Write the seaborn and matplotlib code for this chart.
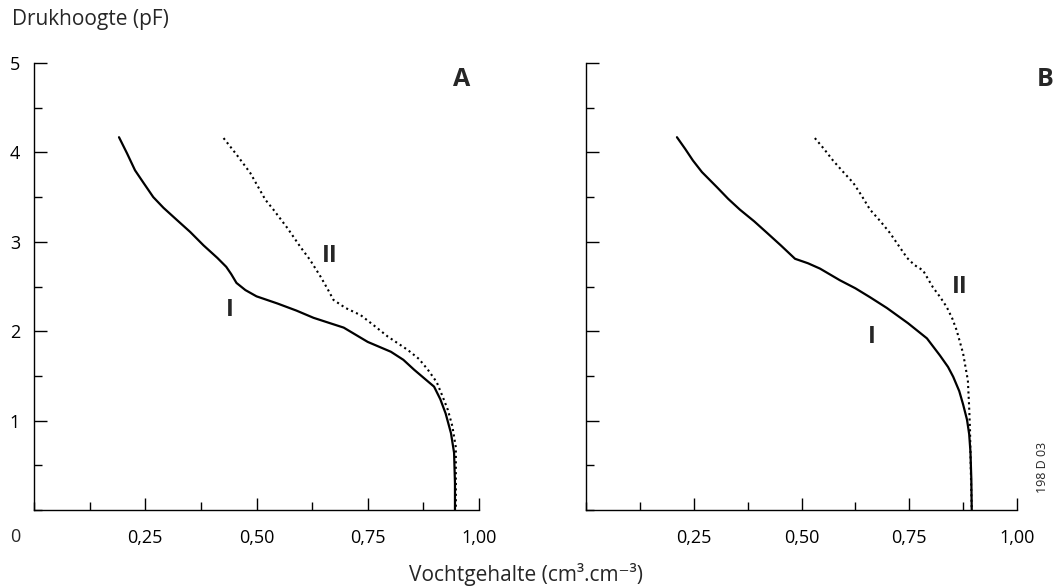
import matplotlib
matplotlib.use("Agg")
import matplotlib.pyplot as plt
import seaborn as sns
from matplotlib.ticker import MultipleLocator, FixedLocator

sns.set_theme(style="white")
plt.rcParams['font.family'] = ['Open Sans', 'DejaVu Sans']

# Panel A data (moisture content, pF)
a1_x = [0.191, 0.209, 0.227, 0.246, 0.268, 0.291, 0.322, 0.351, 0.381, 0.412, 0.432, 0.443,
        0.455, 0.475, 0.50, 0.547, 0.59, 0.628, 0.665, 0.696, 0.75, 0.802, 0.83, 0.854, 0.88,
        0.899, 0.913, 0.925, 0.937, 0.944, 0.946, 0.946]
a1_y = [4.17, 3.99, 3.80, 3.66, 3.50, 3.38, 3.24, 3.11, 2.96, 2.82, 2.72, 2.64,
        2.54, 2.46, 2.39, 2.31, 2.23, 2.15, 2.09, 2.04, 1.88, 1.77, 1.68, 1.57, 1.46,
        1.38, 1.24, 1.08, 0.86, 0.64, 0.30, 0.0]
a2_x = [0.426, 0.456, 0.486, 0.52, 0.538, 0.57, 0.599, 0.62, 0.644, 0.66, 0.673, 0.70, 0.734,
        0.765, 0.795, 0.84, 0.865, 0.885, 0.905, 0.919, 0.93, 0.94, 0.948, 0.948]
a2_y = [4.16, 3.97, 3.77, 3.47, 3.36, 3.15, 2.94, 2.80, 2.61, 2.47, 2.35, 2.26, 2.18,
        2.06, 1.94, 1.79, 1.69, 1.57, 1.43, 1.26, 1.12, 0.94, 0.70, 0.0]

# Panel B data
b1_x = [0.211, 0.230, 0.248, 0.269, 0.304, 0.33, 0.357, 0.39, 0.42, 0.452, 0.485, 0.515, 0.543,
        0.589, 0.625, 0.659, 0.698, 0.747, 0.791, 0.821, 0.84, 0.852, 0.866, 0.875, 0.884,
        0.889, 0.892, 0.894, 0.895]
b1_y = [4.17, 4.04, 3.91, 3.78, 3.61, 3.48, 3.36, 3.23, 3.10, 2.96, 2.81, 2.76, 2.70,
        2.57, 2.48, 2.38, 2.26, 2.09, 1.92, 1.73, 1.60, 1.49, 1.33, 1.18, 1.01,
        0.85, 0.65, 0.35, 0.0]
b2_x = [0.531, 0.552, 0.573, 0.597, 0.62, 0.639, 0.659, 0.683, 0.705, 0.725, 0.745, 0.762, 0.782,
        0.805, 0.822, 0.837, 0.85, 0.86, 0.875, 0.886, 0.889, 0.891, 0.893, 0.895]
b2_y = [4.16, 4.04, 3.91, 3.78, 3.66, 3.52, 3.36, 3.23, 3.10, 2.96, 2.82, 2.74, 2.68,
        2.49, 2.38, 2.27, 2.14, 2.01, 1.75, 1.45, 1.15, 0.89, 0.40, 0.0]

x_ticks = [0.25, 0.50, 0.75, 1.00]
x_labels = ["0,25", "0,50", "0,75", "1,00"]
y_ticks = [1, 2, 3, 4, 5]
y_labels = ["1", "2", "3", "4", "5"]
curve_labels = ["I", "II"]
panel_labels = ["A", "B"]

fig = plt.figure(figsize=(10.56, 5.86), dpi=100)
fig.patch.set_facecolor("white")
axA = fig.add_axes([34/1056, 76/586, 445/1056, 447/586])
axB = fig.add_axes([586/1056, 76/586, 431/1056, 447/586])

solid_kw = dict(color="black", linewidth=1.6, sort=False, estimator=None)
dot_kw = dict(color="black", linewidth=1.5, sort=False, estimator=None)

sns.lineplot(x=a1_x, y=a1_y, ax=axA, **solid_kw)
sns.lineplot(x=a2_x, y=a2_y, ax=axA, linestyle=(0, (1, 1.6)), **dot_kw)
sns.lineplot(x=b1_x, y=b1_y, ax=axB, **solid_kw)
sns.lineplot(x=b2_x, y=b2_y, ax=axB, linestyle=(0, (1, 1.6)), **dot_kw)

for ax in (axA, axB):
    ax.set_facecolor("white")
    ax.set_xlim(0, 1.0)
    ax.set_ylim(0, 5)
    for s in ("top", "right"):
        ax.spines[s].set_visible(False)
    for s in ("left", "bottom"):
        ax.spines[s].set_color("black")
        ax.spines[s].set_linewidth(1.0)
    ax.xaxis.set_major_locator(FixedLocator(x_ticks))
    ax.xaxis.set_minor_locator(MultipleLocator(0.125))
    ax.yaxis.set_major_locator(FixedLocator(y_ticks))
    ax.yaxis.set_minor_locator(MultipleLocator(0.5))
    ax.tick_params(axis="both", which="major", direction="in", length=9, width=1.0,
                   colors="black", bottom=True, left=True)
    ax.tick_params(axis="both", which="minor", direction="in", length=5.5, width=1.0,
                   colors="black", bottom=True, left=True)
    ax.tick_params(axis="x", which="major", pad=14, labelsize=13)
    ax.tick_params(axis="y", which="major", pad=10, labelsize=13)
    ax.set_xticklabels(x_labels)
    ax.set_xlabel("")
    ax.set_ylabel("")
    ax.grid(False)

axA.set_yticklabels(y_labels)
axB.set_yticklabels([])

axA.text(-0.043, -0.30, "0", transform=axA.transData, ha="center", va="center", fontsize=13,
         clip_on=False)

fw = "bold"
axA.text(0.44, 2.24, curve_labels[0], fontsize=17, fontweight=fw, ha="center", va="center")
axA.text(0.664, 2.84, curve_labels[1], fontsize=17, fontweight=fw, ha="center", va="center")
axB.text(0.664, 1.94, curve_labels[0], fontsize=17, fontweight=fw, ha="center", va="center")
axB.text(0.868, 2.49, curve_labels[1], fontsize=17, fontweight=fw, ha="center", va="center")

axA.text(0.96, 4.81, panel_labels[0], fontsize=18, fontweight=fw, ha="center", va="center",
         clip_on=False)
axB.text(1.065, 4.81, panel_labels[1], fontsize=18, fontweight=fw, ha="center", va="center",
         clip_on=False)

fig.text(12/1056, 1 - 20/586, "Drukhoogte (pF)", ha="left", va="center", fontsize=15)
fig.text(526/1056, 1 - 575/586, "Vochtgehalte (cm³.cm⁻³)", ha="center", va="center",
         fontsize=15, family=['Open Sans', 'DejaVu Sans'])
fig.text(1043/1056, 1 - 467/586, "198 D 03", rotation=90, ha="center", va="center", fontsize=9)

fig.savefig("out.png", dpi=100, facecolor="white")
